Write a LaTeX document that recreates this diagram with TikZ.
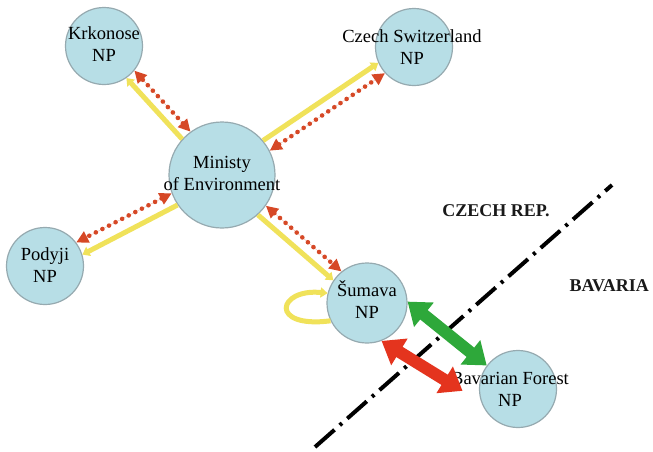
\documentclass[tikz,border=0pt]{standalone}
\usepackage{fontspec}
\setmainfont{Liberation Serif}
\usetikzlibrary{arrows.meta}

\definecolor{npfill}{RGB}{183,222,230}
\definecolor{npedge}{RGB}{150,170,176}
\definecolor{flowyellow}{RGB}{240,226,90}
\definecolor{flowred}{RGB}{214,72,38}
\definecolor{coopgreen}{RGB}{46,168,58}
\definecolor{coopred}{RGB}{228,52,30}

\begin{document}
\begin{tikzpicture}[x=1pt,y=-1pt,
  park/.style={circle, fill=npfill, draw=npedge, line width=1.2pt,
    minimum size=77pt, inner sep=0pt},
  ministry/.style={park, minimum size=106pt},
  caption/.style={font=\fontsize{18.5}{22}\selectfont, align=center, text=black},
  country/.style={font=\fontsize{18}{22}\selectfont\bfseries, text=black!90},
  supply/.style={draw=flowyellow, line width=5pt,
    -{Triangle[length=7pt,width=10pt]}},
  report/.style={draw=flowred, fill=flowred, line width=4.6pt,
    dash pattern=on 0pt off 7.4pt, line cap=round,
    {Triangle[length=12pt,width=12pt]}-{Triangle[length=12pt,width=12pt]}},
  cooperation/.style={line width=12pt,
    {Triangle[length=21pt,width=30pt]}-{Triangle[length=21pt,width=30pt]}},
  border/.style={draw=black, line width=4pt,
    dash pattern=on 26pt off 7pt on 3pt off 7pt}
]
\fill[white] (0,0) rectangle (653,451);
\useasboundingbox (0,0) rectangle (653,451);

% state border
\coordinate (bordS) at (315,447);
\coordinate (bordN) at (612,185);
\draw[border] (bordS) -- (bordN);
\node[country] (czlab) at (496,211) {CZECH REP.};
\node[country, anchor=west] (bylab) at (566,286) {BAVARIA};

% parks and the ministry
\node[park] (krk) at (104,46) {};
\node[park] (csw) at (414,47) {};
\node[ministry] (min) at (222,175) {};
\node[park] (pod) at (45,266) {};
\node[park, minimum size=80pt] (sum) at (367,303) {};
\node[park] (bav) at (518,389) {};

\node[caption] (krkt) at ([yshift=2pt]krk.center) {Krkonose\\NP};
\node[caption] (cswt) at ([xshift=-2pt]csw.center) {Czech Switzerland\\NP};
\node[caption] (mint) at ([yshift=2pt]min.center) {Ministy\\of Environment};
\node[caption] (podt) at ([yshift=1pt]pod.center) {Podyji\\NP};
\node[caption] (sumt) at ([yshift=3pt]sum.center) {Šumava\\NP};
\node[caption] (bavt) at ([xshift=-8pt,yshift=0pt]bav.center) {Bavarian Forest\\NP};

% ministry <-> parks
\draw[supply] (min.138.8) -- (krk.-55.6);
\draw[report] (min.126.6) -- (krk.-39);
\draw[supply] (min.40) -- (csw.204.6);
\draw[report] (min.27) -- (csw.222.3);
\draw[supply] (min.214.5) -- (pod.17.6);
\draw[report] (min.200.5) -- (pod.37.3);
\draw[supply] (min.-48.2) -- (sum.146.9);
\draw[report] (min.-35.2) -- (sum.129.7);

% self loop of Sumava
\draw[supply] (sum.206) .. controls +(-62,8) and +(-50,-5) .. (sum.166);

% cross-border cooperation
\draw[cooperation, draw=coopgreen, fill=coopgreen] (sum.2) -- (bav.143);
\draw[cooperation, draw=coopred, fill=coopred, shorten >=22pt] (sum.-69) -- (bav.200);
\end{tikzpicture}
\end{document}
